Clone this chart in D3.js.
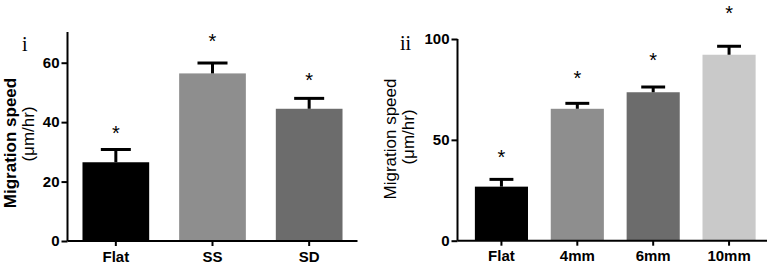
<!DOCTYPE html>
<html>
<head>
<meta charset="utf-8">
<script src="https://cdn.jsdelivr.net/npm/d3@7"></script>
<style>
  body { margin: 0; background: #fff; }
  svg { display: block; }
</style>
</head>
<body>
<div id="chart"></div>
<script>
// Panel i
const catsI = ["Flat", "SS", "SD"];
const meanI = [26.5, 56.4, 44.5];
const errI = [4.3, 3.5, 3.5];
const starI = [38, 69, 55.6];
const colorsI = ["#000000", "#8e8e8e", "#6c6c6c"];
const ticksI = [0, 20, 40, 60];

// Panel ii
const catsII = ["Flat", "4mm", "6mm", "10mm"];
const meanII = [26.8, 65.4, 73.6, 92.2];
const errII = [3.6, 2.7, 2.6, 4.2];
const starII = [44, 83, 92, 115];
const colorsII = ["#000000", "#8e8e8e", "#6c6c6c", "#c9c9c9"];
const ticksII = [0, 50, 100];

const width = 769, height = 267;

const svg = d3.select("#chart")
    .append("svg")
    .attr("width", width)
    .attr("height", height);

function drawPanel(opts) {
    const g = svg.append("g");

    const x = d3.scaleBand()
        .domain(opts.cats)
        .range([opts.x0 + opts.shift, opts.x1])
        .paddingInner(opts.padIn)
        .paddingOuter(opts.padOut);

    const y = d3.scaleLinear()
        .domain(opts.domain)
        .range([opts.y0, opts.y1]);

    const data = opts.cats.map((c, i) => ({
        cat: c, mean: opts.mean[i], err: opts.err[i], star: opts.star[i], color: opts.colors[i]
    }));

    // bars
    g.selectAll(".bar")
        .data(data)
        .join("rect")
        .attr("x", d => x(d.cat))
        .attr("y", d => y(d.mean))
        .attr("width", x.bandwidth())
        .attr("height", d => y(0) - y(d.mean))
        .attr("fill", d => d.color);

    // error bars (upper only)
    const capW = x.bandwidth() * 0.45;
    g.selectAll(".stem")
        .data(data)
        .join("line")
        .attr("x1", d => x(d.cat) + x.bandwidth() / 2)
        .attr("x2", d => x(d.cat) + x.bandwidth() / 2)
        .attr("y1", d => y(d.mean))
        .attr("y2", d => y(d.mean + d.err))
        .attr("stroke", "#000")
        .attr("stroke-width", 3);

    g.selectAll(".cap")
        .data(data)
        .join("line")
        .attr("x1", d => x(d.cat) + x.bandwidth() / 2 - capW / 2)
        .attr("x2", d => x(d.cat) + x.bandwidth() / 2 + capW / 2)
        .attr("y1", d => y(d.mean + d.err))
        .attr("y2", d => y(d.mean + d.err))
        .attr("stroke", "#000")
        .attr("stroke-width", 3);

    // significance stars
    g.selectAll(".star")
        .data(data)
        .join("text")
        .attr("x", d => x(d.cat) + x.bandwidth() / 2)
        .attr("y", d => y(d.star))
        .attr("dy", "0.58em")
        .attr("text-anchor", "middle")
        .style("font-family", "Liberation Sans, Arial, sans-serif")
        .style("font-size", "20px")
        .text("*");

    // axes
    const yAxis = d3.axisLeft(y).tickValues(opts.ticks).tickSize(6).tickPadding(2).tickSizeOuter(0);
    const xAxis = d3.axisBottom(x).tickSize(5).tickPadding(5).tickSizeOuter(0);

    const gy = g.append("g")
        .attr("transform", `translate(${opts.x0},0)`)
        .call(yAxis);
    gy.select(".domain").attr("d", `M0,${y(0)}V${opts.yTop}`);

    const gx = g.append("g")
        .attr("transform", `translate(0,${y(0)})`)
        .call(xAxis);
    gx.select(".domain").attr("d", `M${opts.x0},0H${opts.xEnd}`);

    g.selectAll(".domain").attr("stroke", "#000").attr("stroke-width", 2);
    g.selectAll(".tick line").attr("stroke", "#000").attr("stroke-width", 2);
    g.selectAll(".tick text")
        .attr("fill", "#000")
        .style("font-family", "Liberation Sans, Arial, sans-serif")
        .style("font-size", "15px")
        .style("font-weight", "bold");

    // y-axis title
    g.append("text")
        .attr("transform", `translate(${opts.titleX},${opts.titleY}) rotate(-90)`)
        .attr("text-anchor", "middle")
        .style("font-family", "Liberation Sans, Arial, sans-serif")
        .style("font-size", "17px")
        .style("font-weight", opts.titleWeight)
        .text("Migration speed");

    g.append("text")
        .attr("transform", `translate(${opts.titleX + 18},${opts.unitY}) rotate(-90)`)
        .attr("text-anchor", "middle")
        .style("font-family", "Liberation Sans, Arial, sans-serif")
        .style("font-size", "17px")
        .text("(\u03bcm/hr)");

    // panel label
    g.append("text")
        .attr("x", opts.labelX)
        .attr("y", opts.labelY)
        .style("font-family", "Liberation Serif, Times New Roman, serif")
        .style("font-size", "20px")
        .text(opts.label);
}

drawPanel({
    cats: catsI, mean: meanI, err: errI, star: starI, colors: colorsI, ticks: ticksI,
    domain: [0, 70], x0: 67.5, x1: 357.5, shift: 0, xEnd: 357.5,
    y0: 241, y1: 33, yTop: 32,
    padIn: 0.31, padOut: 0.155,
    titleX: 16, titleY: 143, unitY: 134, titleWeight: "bold",
    label: "i", labelX: 22, labelY: 51
});

drawPanel({
    cats: catsII, mean: meanII, err: errII, star: starII, colors: colorsII, ticks: ticksII,
    domain: [0, 100], x0: 457.5, x1: 767, shift: 6, xEnd: 767,
    y0: 240.7, y1: 39, yTop: 39,
    padIn: 0.3, padOut: 0.15,
    titleX: 396, titleY: 139, unitY: 137, titleWeight: "normal",
    label: "ii", labelX: 400, labelY: 50
});
</script>
</body>
</html>
